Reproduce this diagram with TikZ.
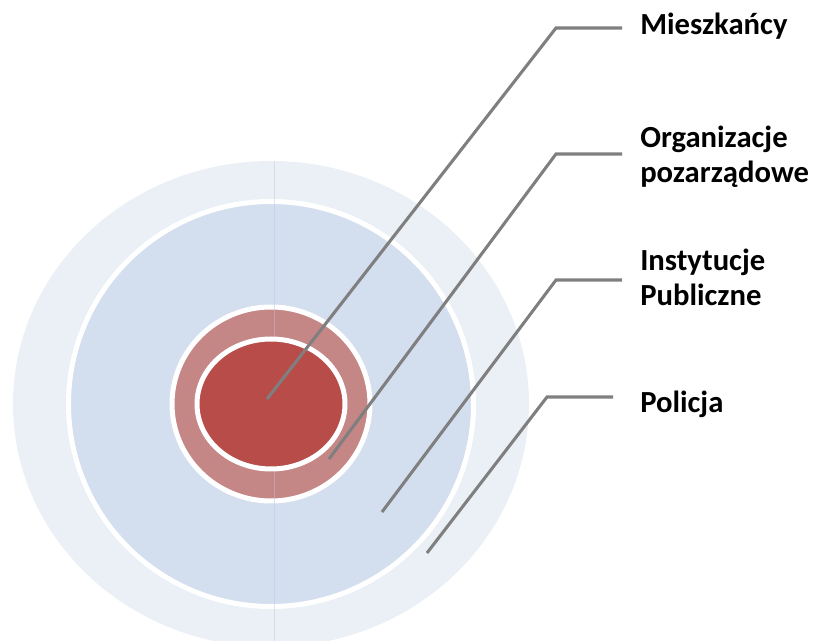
\documentclass[tikz,border=0pt]{standalone}
\usepackage{fontspec}
\setmainfont{Carlito}
\definecolor{outerblue}{HTML}{EBF0F7}
\definecolor{midblue}{HTML}{D3DEEE}
\definecolor{rose}{HTML}{C58686}
\definecolor{brick}{HTML}{B84C49}
\definecolor{leadergray}{HTML}{7F7F7F}
\definecolor{axisblue}{HTML}{B9C8DC}
\begin{document}
\begin{tikzpicture}[x=0.75pt,y=-0.75pt,
  ring/.style={draw=white, line width=3.75pt},
  leader/.style={draw=leadergray, line width=2.3pt},
  axisline/.style={draw=axisblue, line width=0.75pt, opacity=0.45},
  label/.style={font=\bfseries\fontsize{23}{26.5}\selectfont, anchor=base west,
                inner sep=0pt, align=left}]
\useasboundingbox (0,0) rectangle (819,641);
\clip (0,0) rectangle (819,641);

% concentric target
\coordinate (c) at (271,404);
\fill[outerblue] (c) ellipse [x radius=258, y radius=243];
\path[ring, fill=midblue] (c) circle [radius=202.5];
\path[ring, fill=rose] (c) ellipse [x radius=99, y radius=97];
\coordinate (axtop) at (274,161);
\coordinate (axbot) at (274,641);
\draw[axisline] (axtop) -- (axbot);
\path[ring, fill=brick] (c) ellipse [x radius=74, y radius=65];

% labels (base anchor sits on the last line)
\node[label] (mies) at (640,35)  {Mieszkańcy};
\node[label] (org)  at (640,183) {Organizacje\\pozarządowe};
\node[label] (inst) at (640,306) {Instytucje\\Publiczne};
\node[label] (pol)  at (640,413) {Policja};

% leader lines
\coordinate (m0) at (267,399); \coordinate (m1) at (556,28);  \coordinate (m2) at (622,28);
\coordinate (o0) at (329,459); \coordinate (o1) at (556,154); \coordinate (o2) at (622,154);
\coordinate (i0) at (382,512); \coordinate (i1) at (556,280); \coordinate (i2) at (622,280);
\coordinate (p0) at (427,553); \coordinate (p1) at (547,397); \coordinate (p2) at (613,397);
\draw[leader] (m0) -- (m1) -- (m2);
\draw[leader] (o0) -- (o1) -- (o2);
\draw[leader] (i0) -- (i1) -- (i2);
\draw[leader] (p0) -- (p1) -- (p2);
\end{tikzpicture}
\end{document}
